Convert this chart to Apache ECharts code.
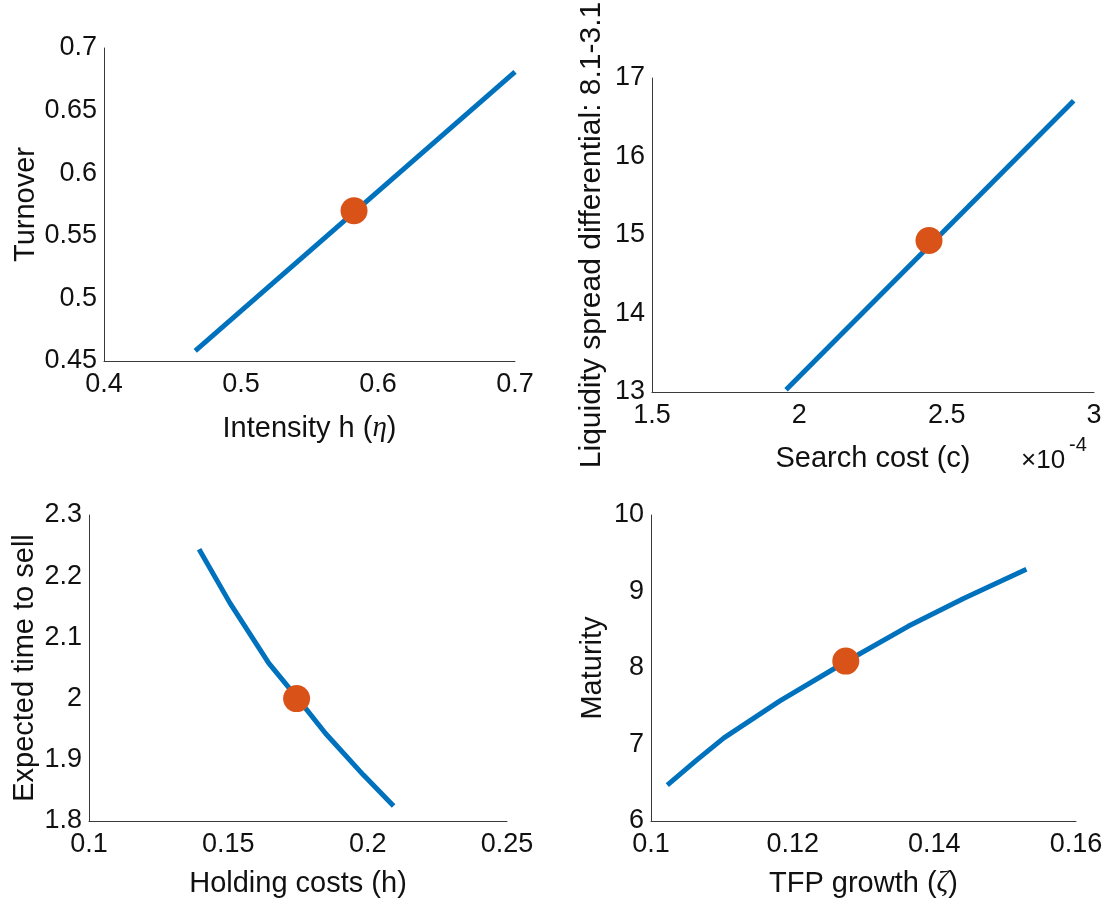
<!DOCTYPE html>
<html><head><meta charset="utf-8">
<script src="https://cdn.jsdelivr.net/npm/echarts@6.0.0/dist/echarts.min.js"></script>
<style>html,body{margin:0;padding:0;background:#fff;}#chart{width:1106px;height:903px;}</style>
</head><body><div id="chart"></div>
<script>
// ---- Panel 1: Turnover vs intensity
const intensityX = [0.4666, 0.7];
const turnoverY = [0.458, 0.681];
const turnoverDot = [0.5825, 0.570];
const p1XRange = [0.4, 0.7, 0.1];
const p1YRange = [0.45, 0.7, 0.05];

// ---- Panel 2: Liquidity spread vs search cost (x in units of 1e-4)
const searchCostX = [1.955, 2.931];
const spreadY = [13.03, 16.71];
const spreadDot = [2.440, 14.93];
const p2XRange = [1.5, 3, 0.5];
const p2YRange = [13, 17, 1];

// ---- Panel 3: Expected time to sell vs holding costs
const holdingX = [0.1395, 0.1506, 0.1645, 0.1746, 0.1849, 0.1985, 0.2093];
const timeToSellY = [2.244, 2.156, 2.058, 2.002, 1.943, 1.875, 1.8245];
const timeDot = [0.1745, 2.0];
const p3XRange = [0.1, 0.25, 0.05];
const p3YRange = [1.8, 2.3, 0.1];

// ---- Panel 4: Maturity vs TFP growth
const tfpX = [0.1023, 0.1064, 0.1103, 0.1182, 0.1275, 0.1363, 0.1442, 0.153];
const maturityY = [6.468, 6.792, 7.087, 7.571, 8.082, 8.545, 8.913, 9.29];
const maturityDot = [0.1275, 8.09];
const p4XRange = [0.1, 0.16, 0.02];
const p4YRange = [6, 10, 1];

const xNames = ['Intensity h ({it|η})', 'Search cost (c)', 'Holding costs (h)', 'TFP growth ({it|ζ})'];
const yNames = ['Turnover', 'Liquidity spread differential: 8.1-3.1', 'Expected time to sell', 'Maturity'];

const FONT = 'Liberation Sans, Arial, Helvetica, sans-serif';
const TICK = 27, LAB = 29;
const TXT = '#111';
const AXC = '#3a3a3a';

const grids = [
  {left: 104, top: 48, width: 411, height: 313},
  {left: 652, top: 78, width: 442, height: 314},
  {left: 89, top: 515, width: 418, height: 306},
  {left: 651, top: 515, width: 425, height: 306}
];
const xGaps = [53, 52, 48, 48];
const yGaps = [64, 45, 50, 44];
const yNameSizes = [LAB, 30, LAB, LAB];
const xRanges = [p1XRange, p2XRange, p3XRange, p4XRange];
const yRanges = [p1YRange, p2YRange, p3YRange, p4YRange];

function pairs(xs, ys) { return xs.map((x, i) => [x, ys[i]]); }
const lines = [pairs(intensityX, turnoverY), pairs(searchCostX, spreadY), pairs(holdingX, timeToSellY), pairs(tfpX, maturityY)];
const dots = [turnoverDot, spreadDot, timeDot, maturityDot];

const richIt = {it: {fontStyle: 'italic', fontFamily: 'Liberation Serif, DejaVu Serif, serif', fontSize: LAB, color: TXT}};

const option = {
  backgroundColor: '#fff',
  animation: false,
  grid: grids.map(g => Object.assign({containLabel: false, outerBoundsMode: 'none'}, g)),
  xAxis: xRanges.map((r, i) => ({
    type: 'value', gridIndex: i, min: r[0], max: r[1], interval: r[2],
    name: xNames[i], nameLocation: 'middle', nameGap: xGaps[i], nameMoveOverlap: false,
    nameTextStyle: {fontSize: LAB, fontFamily: FONT, color: TXT, rich: richIt},
    axisLine: {show: true, onZero: false, lineStyle: {color: AXC, width: 1}},
    axisTick: {show: false},
    splitLine: {show: false},
    axisLabel: {fontSize: TICK, fontFamily: FONT, color: TXT, margin: 10, showMinLabel: true, showMaxLabel: true, hideOverlap: false}
  })),
  yAxis: yRanges.map((r, i) => ({
    type: 'value', gridIndex: i, min: r[0], max: r[1], interval: r[2],
    name: yNames[i], nameLocation: 'middle', nameGap: yGaps[i], nameMoveOverlap: false,
    nameTextStyle: {fontSize: yNameSizes[i], fontFamily: FONT, color: TXT},
    axisLine: {show: true, onZero: false, lineStyle: {color: AXC, width: 1}},
    axisTick: {show: false},
    splitLine: {show: false},
    axisLabel: {fontSize: TICK, fontFamily: FONT, color: TXT, margin: 7, showMinLabel: true, showMaxLabel: true, hideOverlap: false}
  })),
  series: [].concat(
    lines.map((d, i) => ({
      type: 'line', xAxisIndex: i, yAxisIndex: i, data: d, showSymbol: false, symbol: 'none',
      lineStyle: {color: '#0072BD', width: 5}, z: 2, silent: true
    })),
    dots.map((d, i) => ({
      type: 'scatter', xAxisIndex: i, yAxisIndex: i, data: [d], symbol: 'circle', symbolSize: 27,
      itemStyle: {color: '#D95319', opacity: 1}, z: 3, silent: true
    }))
  ),
  graphic: [
    {type: 'text', left: 1021, top: 448, style: {text: '×10', fontSize: 26, fontFamily: FONT, fill: TXT}},
    {type: 'text', left: 1069, top: 435, style: {text: '-4', fontSize: 20, fontFamily: FONT, fill: TXT}}
  ]
};

const chart = echarts.init(document.getElementById('chart'), null, {renderer: 'canvas'});
chart.setOption(option);
</script>
</body></html>
